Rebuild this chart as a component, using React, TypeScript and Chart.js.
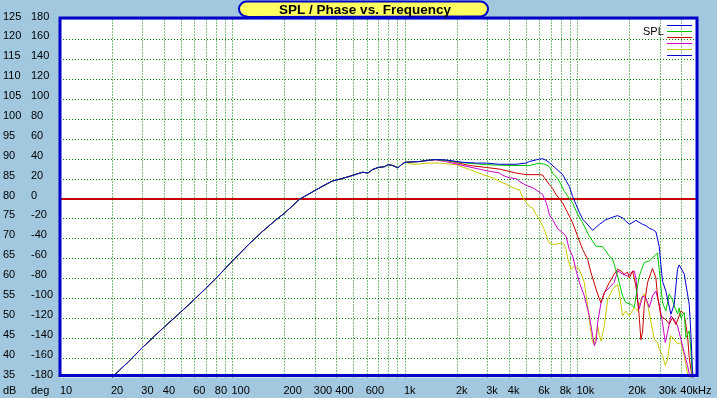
import React, { useEffect, useRef } from "react";
import { Chart, registerables } from "chart.js";
Chart.register(...registerables);

// ---- data ----
const commonFreq = [20, 25, 30, 40, 50, 60, 70, 80, 90, 100, 125, 150, 175, 200, 245, 300, 340, 380, 430, 480, 530, 570, 610, 650, 700, 760, 800, 850, 910, 960, 1000];
const commonDb = [35, 39.0, 42.5, 47.6, 51.4, 54.6, 57.4, 59.9, 62.2, 64.3, 68.6, 71.8, 74.3, 76.3, 79.8, 82.0, 83.3, 84.4, 85.0, 85.6, 86.2, 86.6, 86.4, 87.3, 87.8, 88.0, 88.5, 88.3, 87.7, 88.6, 89.1];

const blueFreq = [1100, 1220, 1350, 1500, 1720, 2160, 2600, 2960, 3530, 4400, 5040, 5265, 6015, 6290, 6575, 6875, 7510, 8210, 8585, 8975, 9380, 9810, 10260, 10720, 11210, 12250, 13400, 14650, 16000, 17100, 18270, 19990, 21830, 23860, 24940, 26080, 27250, 28510, 29790, 30460, 31130, 32560, 34820, 36390, 38040, 38900, 41590, 44470, 45480, 46470, 47500];
const blueDb = [89.2, 89.3, 89.6, 89.8, 89.7, 89.1, 88.9, 88.9, 88.6, 88.6, 88.9, 89.3, 89.9, 90.0, 89.6, 89.0, 87.5, 86.0, 84.5, 83.0, 80.5, 78.5, 76.5, 74.8, 73.9, 72.0, 73.5, 74.7, 75.3, 75.7, 75.1, 73.5, 74.5, 73.5, 73.2, 72.5, 72.2, 71.6, 68.0, 63.4, 59.2, 56.7, 50.9, 53.4, 62.2, 63.3, 61.0, 53.4, 45.9, 36.7, 33];

const greenFreq = [1100, 1220, 1350, 1500, 1720, 2160, 2960, 4000, 5265, 6015, 6575, 6875, 7180, 7680, 8030, 8390, 8975, 9380, 10030, 10720, 11720, 12820, 14000, 15310, 16000, 17100, 18270, 19100, 20420, 21340, 22800, 24380, 26080, 27870, 29130, 29790, 31130, 32560, 34040, 35570, 36390, 38040, 38900, 39800, 41590, 42540, 44470, 45480, 46500];
const greenDb = [89.2, 89.3, 89.6, 89.8, 89.6, 89.0, 88.5, 88.3, 88.3, 88.9, 88.5, 88.0, 86.4, 85.0, 83.5, 81.8, 80.0, 78.9, 76.0, 73.9, 70.5, 68.0, 67.9, 65.5, 64.7, 60.5, 55.5, 53.8, 53.4, 52.6, 60.5, 63.9, 64.3, 65.5, 66.3, 62.2, 53.8, 51.7, 56.0, 54.5, 53.0, 51.0, 52.5, 50.0, 51.3, 45.0, 46.7, 41.7, 34];

const redFreq = [1100, 1220, 1350, 1500, 1720, 2000, 2366, 2957, 3530, 4413, 5040, 6015, 6290, 6430, 6875, 7180, 7510, 7850, 8210, 8585, 8770, 9380, 10030, 10720, 11460, 11990, 12820, 13400, 13700, 14320, 15310, 16360, 17100, 17870, 18690, 19530, 19990, 20890, 21830, 22800, 23330, 23860, 24380, 25510, 26670, 27250, 28510, 29130, 30460, 32560, 34040, 35570, 37220, 39800, 41590, 43470, 44470, 45480, 46470];
const redDb = [89.2, 89.3, 89.6, 89.8, 89.6, 89.0, 88.3, 87.8, 87.4, 86.4, 86.0, 86.0, 85.9, 85.2, 83.5, 82.5, 81.0, 80.0, 78.9, 77.2, 76.4, 73.9, 70.5, 67.2, 64.7, 61.3, 57.2, 54.7, 53.8, 56.3, 58.9, 61.0, 62.2, 61.8, 61.0, 61.5, 60.0, 61.8, 58.0, 50.5, 44.5, 46.5, 53.0, 58.9, 61.3, 62.4, 60.0, 55.5, 50.5, 49.5, 48.5, 50.0, 48.3, 51.7, 51.0, 45.5, 40.0, 37.0, 34];

const magentaFreq = [1100, 1220, 1350, 1500, 1720, 2164, 2957, 3530, 3690, 4035, 4413, 4613, 5040, 5505, 5755, 6290, 6575, 6720, 6875, 7180, 7680, 8210, 8585, 8975, 9380, 9810, 10260, 10960, 11720, 12250, 12530, 12820, 13100, 13700, 14320, 15310, 16360, 17100, 18270, 19530, 20420, 21340, 21830, 22320, 22800, 23860, 24940, 26080, 27250, 28510, 29790, 31130, 32300, 33270, 34820, 36390, 38040, 39800, 41590, 43470, 45480];
const magentaDb = [89.2, 89.3, 89.5, 89.7, 89.3, 88.3, 87.0, 86.4, 85.8, 85.2, 85.0, 84.3, 83.3, 82.7, 82.2, 81.0, 79.0, 77.8, 75.9, 74.7, 72.4, 71.4, 70.5, 67.2, 65.5, 62.0, 58.9, 55.5, 50.5, 45.5, 43.0, 44.0, 48.8, 53.8, 56.3, 57.6, 58.9, 61.8, 61.0, 60.5, 61.3, 61.8, 60.0, 54.7, 52.2, 55.5, 55.0, 52.6, 55.5, 56.7, 53.4, 48.8, 43.8, 46.3, 50.5, 49.6, 48.0, 44.6, 41.3, 38.0, 34];

const yellowFreq = [1100, 1220, 1350, 1450, 1586, 1982, 2366, 2826, 3230, 3530, 3860, 4035, 4413, 4613, 4822, 5265, 5505, 5755, 6015, 6430, 6720, 6875, 7345, 8030, 8390, 8585, 8775, 9175, 9590, 10260, 10960, 11460, 11990, 12250, 12530, 12820, 13100, 13400, 13700, 14320, 14970, 16000, 17100, 17490, 18270, 19100, 19990, 21340, 22320, 23330, 24380, 25510, 26670, 27870, 29130, 29790, 31130, 32300, 33270, 34820, 36390, 38040, 39800, 41590, 43470, 45000];
const yellowDb = [88.6, 88.7, 88.9, 88.9, 88.9, 88.5, 87.3, 86.0, 85.2, 84.3, 83.6, 83.1, 82.4, 82.2, 80.2, 78.0, 77.6, 76.0, 74.7, 72.2, 69.7, 68.8, 68.4, 68.8, 68.4, 67.2, 65.0, 62.2, 63.0, 62.2, 58.9, 53.0, 46.3, 43.8, 43.4, 45.5, 48.0, 45.5, 44.2, 48.0, 54.7, 57.2, 58.4, 56.3, 50.5, 51.7, 50.5, 52.6, 51.7, 54.7, 56.0, 53.4, 49.0, 44.6, 43.8, 42.1, 40.5, 38.0, 39.6, 45.5, 44.6, 43.4, 43.8, 40.5, 35.9, 34];

const seriesNames = ["SPL 1", "SPL 2", "SPL 3", "SPL 4", "SPL 5"];
const seriesColors = ["#0000D0", "#00C800", "#C80000", "#C800C8", "#C8C800"];
const seriesFreqs = [blueFreq, greenFreq, redFreq, magentaFreq, yellowFreq];
const seriesDbs = [blueDb, greenDb, redDb, magentaDb, yellowDb];
const legendColors = ["#0000D0", "#00C800", "#C80000", "#C800C8", "#C8C800", "#0000D0"];

const dbLabels = [125, 120, 115, 110, 105, 100, 95, 90, 85, 80, 75, 70, 65, 60, 55, 50, 45, 40, 35];
const degLabels = [180, 160, 140, 120, 100, 80, 60, 40, 20, 0, -20, -40, -60, -80, -100, -120, -140, -160, -180];
const xTickValues = [10, 20, 30, 40, 60, 80, 100, 200, 300, 400, 600, 1000, 2000, 3000, 4000, 6000, 8000, 10000, 20000, 30000, 40000];
const xTickLabels = ["10", "20", "30", "40", "60", "80", "100", "200", "300", "400", "600", "1k", "2k", "3k", "4k", "6k", "8k", "10k", "20k", "30k", "40kHz"];
const titleText = "SPL / Phase vs. Frequency";
const legendText = "SPL";

const BG = "#A2C8E0";
const FONT = "11px 'Liberation Sans', Arial, sans-serif";

const decorPlugin = {
  id: "decor",
  beforeDraw(chart: any) {
    const { ctx, chartArea: ca, scales } = chart;
    const xs = scales.x, ys = scales.y;
    ctx.save();
    ctx.fillStyle = BG;
    ctx.fillRect(0, 0, chart.width, chart.height);
    ctx.fillStyle = "#FFFFFF";
    ctx.fillRect(ca.left, ca.top, ca.right - ca.left, ca.bottom - ca.top);
    ctx.strokeStyle = "#008000";
    ctx.lineWidth = 1;
    ctx.setLineDash([1, 2]);
    // vertical grid
    for (let dec = 10; dec < 50000; dec *= 10) {
      for (let m = 1; m <= 9; m++) {
        const f = dec * m;
        if (f <= 10 || f >= 50000) continue;
        const px = Math.round(xs.getPixelForValue(f)) + 0.5;
        ctx.beginPath();
        ctx.moveTo(px, ca.top);
        ctx.lineTo(px, ca.bottom);
        ctx.stroke();
      }
    }
    // horizontal grid
    dbLabels.forEach((v) => {
      if (v === 125 || v === 35 || v === 80) return;
      const py = Math.round(ys.getPixelForValue(v)) + 0.5;
      ctx.beginPath();
      ctx.moveTo(ca.left, py);
      ctx.lineTo(ca.right, py);
      ctx.stroke();
    });
    ctx.setLineDash([]);
    const zy = Math.round(ys.getPixelForValue(80));
    ctx.strokeStyle = "#C80000";
    ctx.lineWidth = 2;
    ctx.beginPath();
    ctx.moveTo(ca.left, zy);
    ctx.lineTo(ca.right, zy);
    ctx.stroke();
    ctx.restore();
  },
  afterDraw(chart: any) {
    const { ctx, chartArea: ca, scales } = chart;
    const xs = scales.x, ys = scales.y;
    ctx.save();
    // frame
    ctx.strokeStyle = "#0000C8";
    ctx.lineWidth = 3;
    ctx.strokeRect(ca.left, ca.top - 1.5, ca.right - 1 - ca.left, ca.bottom - ca.top - 0.5);
    // labels
    ctx.fillStyle = "#000000";
    ctx.font = FONT;
    ctx.textBaseline = "middle";
    ctx.textAlign = "left";
    dbLabels.forEach((v, i) => {
      const y = ys.getPixelForValue(v) - 3;
      ctx.fillText(String(v), 3, y);
      ctx.fillText(String(degLabels[i]), 31, y);
    });
    ctx.fillText("dB", 3, 391);
    ctx.fillText("deg", 31, 391);
    xTickValues.forEach((v, i) => {
      const x = xs.getPixelForValue(v) - 1;
      ctx.fillText(xTickLabels[i], Math.max(x, ca.left), 391);
    });
    // legend
    ctx.fillText(legendText, 643, 32);
    ctx.lineWidth = 1;
    legendColors.forEach((c, i) => {
      const y = 25.5 + i * 6;
      ctx.strokeStyle = c;
      ctx.beginPath();
      ctx.moveTo(667, y);
      ctx.lineTo(692, y);
      ctx.stroke();
    });
    // title box
    const bx = 239, by = 1.5, bw = 249, bh = 15.5, r = 7.5;
    ctx.beginPath();
    ctx.moveTo(bx + r, by);
    ctx.lineTo(bx + bw - r, by);
    ctx.arc(bx + bw - r, by + r, r, -Math.PI / 2, Math.PI / 2);
    ctx.lineTo(bx + r, by + bh);
    ctx.arc(bx + r, by + r, r, Math.PI / 2, (3 * Math.PI) / 2);
    ctx.closePath();
    ctx.fillStyle = "#FFFF60";
    ctx.fill();
    ctx.strokeStyle = "#0000C8";
    ctx.lineWidth = 2;
    ctx.stroke();
    ctx.fillStyle = "#000000";
    ctx.font = "bold 13.5px 'Liberation Sans', Arial, sans-serif";
    ctx.textAlign = "center";
    ctx.fillText(titleText, 365, 10);
    ctx.restore();
  },
};

export default function App() {
  const ref = useRef<HTMLCanvasElement>(null);
  useEffect(() => {
    document.body.style.margin = "0";
    document.body.style.background = BG;
    const canvas = ref.current!;
    const datasets = seriesNames.map((name, s) => ({
      label: name,
      data: [
        ...commonFreq.map((f, i) => ({ x: f, y: commonDb[i] })),
        ...seriesFreqs[s].map((f, i) => ({ x: f, y: seriesDbs[s][i] })),
      ],
      borderColor: seriesColors[s],
      backgroundColor: seriesColors[s],
      borderWidth: 1,
      pointRadius: 0,
      tension: 0,
      fill: false,
    }));
    const chart = new Chart(canvas, {
      type: "line",
      data: { datasets },
      options: {
        responsive: false,
        maintainAspectRatio: false,
        animation: false,
        events: [],
        parsing: false,
        layout: { padding: { left: 60, right: 19, top: 19.5, bottom: 20.5 } },
        scales: {
          x: { type: "logarithmic", min: 10, max: 50000, display: false },
          y: { type: "linear", min: 35, max: 125, display: false },
        },
        plugins: { legend: { display: false }, tooltip: { enabled: false }, title: { display: false } },
      },
      plugins: [decorPlugin],
    } as any);
    return () => chart.destroy();
  }, []);
  return <canvas ref={ref} width={717} height={398} style={{ display: "block" }} />;
}
